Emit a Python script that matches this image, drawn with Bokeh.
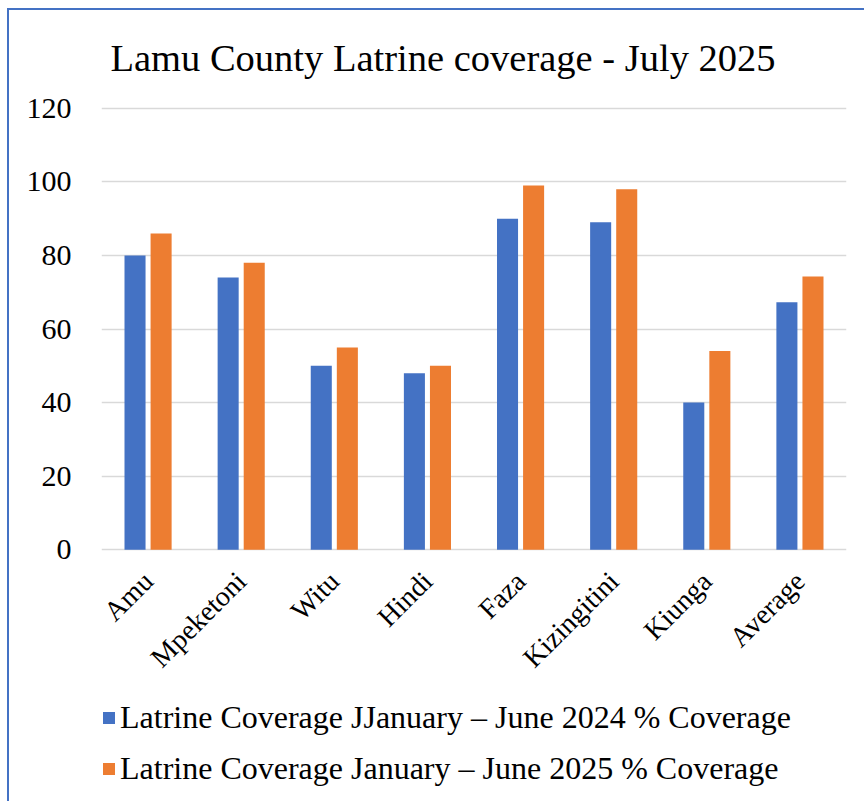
import numpy as np
from bokeh.plotting import figure
from bokeh.layouts import column
from bokeh.models import FactorRange, Range1d, FixedTicker, Legend, LegendItem, ColumnDataSource
from bokeh.transform import dodge
from bokeh.embed import file_html
from bokeh.resources import INLINE

categories = ["Amu", "Mpeketoni", "Witu", "Hindi", "Faza", "Kizingitini", "Kiunga", "Average"]
coverage_2024 = [80, 74, 50, 48, 90, 89, 40, 67.3]
coverage_2025 = [86, 78, 55, 50, 99, 98, 54, 74.3]
series_names = ["Latrine Coverage JJanuary \u2013 June 2024 % Coverage",
                "Latrine Coverage January \u2013 June 2025 % Coverage"]
y_ticks = [0, 20, 40, 60, 80, 100, 120]
title_text = "Lamu County Latrine coverage - July 2025"

FONT = "Liberation Serif"
BLUE = "#4472C4"
ORANGE = "#ED7D31"

src = ColumnDataSource(dict(cat=categories, a=coverage_2024, b=coverage_2025))

p = figure(x_range=FactorRange(*categories, range_padding=0),
           y_range=Range1d(-0.5, 120.5),
           width=855, height=680, output_backend="svg", toolbar_location=None,
           min_border_left=92, min_border_right=18, min_border_top=96, min_border_bottom=139)

p.vbar(x=dodge("cat", -0.14, range=p.x_range), top="a", bottom=0, width=0.226, source=src,
       fill_color=BLUE, line_color=None)
p.vbar(x=dodge("cat", 0.14, range=p.x_range), top="b", bottom=0, width=0.226, source=src,
       fill_color=ORANGE, line_color=None)

p.title.text = title_text
p.title.text_font = FONT
p.title.text_font_size = "38.5px"
p.title.text_font_style = "normal"
p.title.text_color = "black"
p.title.align = "left"
p.title.offset = 9
p.title.vertical_align = "top"
p.title.standoff = 52

p.outline_line_color = None
p.xgrid.grid_line_color = None
p.ygrid.grid_line_color = "#D9D9D9"
p.ygrid.grid_line_width = 1.5
p.yaxis.ticker = FixedTicker(ticks=y_ticks)
p.yaxis.axis_line_color = None
p.yaxis.major_tick_line_color = None
p.yaxis.minor_tick_line_color = None
p.yaxis.major_label_text_font = FONT
p.yaxis.major_label_text_font_size = "30px"
p.yaxis.major_label_text_color = "black"
p.yaxis.major_label_standoff = 24

p.xaxis.axis_line_color = None
p.xaxis.major_tick_line_color = None
p.xaxis.major_label_text_font = FONT
p.xaxis.major_label_text_font_size = "28px"
p.xaxis.major_label_text_color = "black"
p.xaxis.major_label_orientation = 0.785398
p.xaxis.major_label_standoff = 19

# legend strip below the chart
p2 = figure(width=855, height=111, x_range=Range1d(0, 1), y_range=Range1d(0, 1),
            x_axis_location=None, y_axis_location=None,
            output_backend="svg", toolbar_location=None,
            min_border=0, min_border_left=0, min_border_right=0,
            min_border_top=0, min_border_bottom=0)
p2.grid.grid_line_color = None
p2.outline_line_color = None
proxy = ColumnDataSource(dict(x=np.array([np.nan]), top=np.array([np.nan])))
g1 = p2.vbar(x="x", top="top", width=0.1, source=proxy, fill_color=BLUE, line_color=None)
g2 = p2.vbar(x="x", top="top", width=0.1, source=proxy, fill_color=ORANGE, line_color=None)
legend = Legend(items=[LegendItem(label=series_names[0], renderers=[g1]),
                       LegendItem(label=series_names[1], renderers=[g2])],
                location=(0, 14), orientation="vertical",
                label_text_font=FONT, label_text_font_size="32px", label_text_color="black",
                glyph_width=15, glyph_height=15, label_standoff=4,
                label_height=30, spacing=14, padding=0, margin=0,
                border_line_color=None, background_fill_alpha=0)
p2.add_layout(legend, "center")

layout = column(p, p2, spacing=0)
layout.margin = (8, 0, 0, 7)
layout.styles = {"border-top": "2px solid #4472C4", "border-left": "2px solid #4472C4"}

open("out.html", "w").write(file_html(layout, INLINE))
